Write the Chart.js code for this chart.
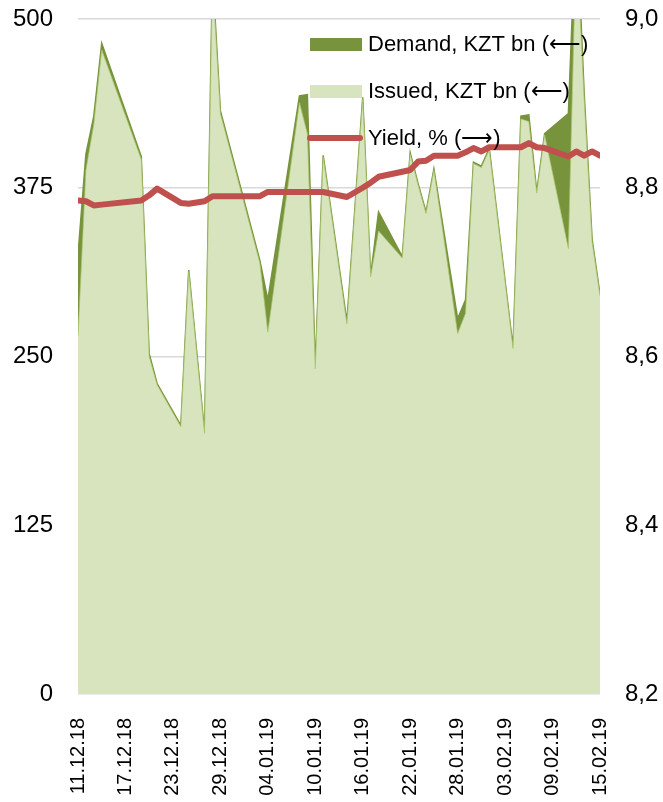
<!DOCTYPE html>
<html>
<head>
    <meta charset="UTF-8">
    <title>Demand, issued and yield</title>
    <script src="https://cdn.jsdelivr.net/npm/chart.js"></script>
    <style>
        html, body { margin: 0; padding: 0; background: #fff; }
        #wrap { width: 663px; height: 802px; position: relative; }
    </style>
</head>
<body>
    <div id="wrap"><canvas id="auctionChart"></canvas></div>

    <script>
        // days since 11.12.18
        const days = [0, 1, 2, 3, 8, 9, 10, 13, 14, 16, 17, 18, 23, 24, 28, 29, 30, 31, 34, 36, 37, 38,
            41, 42, 43, 44, 45, 48, 49, 50, 51, 52, 55, 56, 57, 58, 59, 62, 63, 64, 65, 66];

        const demand = [325, 400, 428, 482, 398, 252, 230, 199, 314, 194, 535, 432, 321, 292, 443, 444, 242, 399, 276, 442, 310, 357,
            324, 401, 378, 357, 389, 278, 292, 394, 391, 404, 257, 428, 429, 372, 415, 430, 580, 445, 337, 296];

        const issued = [265, 388, 422, 477, 396, 250, 229, 198, 313, 193, 530, 430, 319, 268, 438, 415, 241, 398, 274, 441, 309, 343,
            323, 400, 377, 356, 388, 267, 282, 393, 390, 403, 256, 426, 424, 371, 414, 330, 560, 440, 335, 295];

        const yieldPct = [8.785, 8.784, 8.779, 8.780, 8.785, 8.791, 8.799, 8.782, 8.781, 8.784, 8.790, 8.790, 8.790, 8.795, 8.795, 8.795, 8.795, 8.795, 8.789, 8.800, 8.806, 8.813,
            8.819, 8.821, 8.831, 8.832, 8.838, 8.838, 8.842, 8.847, 8.843, 8.848, 8.848, 8.848, 8.853, 8.848, 8.847, 8.837, 8.843, 8.838, 8.843, 8.838];

        // x tick labels, one every 6 days
        const dateLabels = ['11.12.18', '17.12.18', '23.12.18', '29.12.18', '04.01.19', '10.01.19',
            '16.01.19', '22.01.19', '28.01.19', '03.02.19', '09.02.19', '15.02.19'];

        const legendItems = ['Demand, KZT bn (\u27F5)', 'Issued, KZT bn (\u27F5)', 'Yield, % (\u27F6)'];

        const FONT = '"Liberation Sans", Arial, sans-serif';
        const DARK = '#77933C';
        const LIGHT = '#D7E4BD';
        const RED = '#C0504D';

        function pts(values) {
            return days.map((d, i) => ({ x: d, y: values[i] }));
        }

        // legend drawn inside the plot, no background
        const insideLegend = {
            id: 'insideLegend',
            afterDraw(chart) {
                const ctx = chart.ctx;
                ctx.save();
                ctx.fillStyle = DARK;
                ctx.fillRect(310, 38, 52, 13);
                ctx.fillStyle = LIGHT;
                ctx.fillRect(310, 85, 52, 13);
                ctx.strokeStyle = RED;
                ctx.lineWidth = 6;
                ctx.lineCap = 'round';
                ctx.beginPath();
                ctx.moveTo(310, 138);
                ctx.lineTo(360, 138);
                ctx.stroke();

                ctx.fillStyle = '#000';
                ctx.font = '22px ' + FONT;
                ctx.textBaseline = 'middle';
                ctx.textAlign = 'left';
                ctx.fillText(legendItems[0], 368, 45);
                ctx.fillText(legendItems[1], 368, 92);
                ctx.fillText(legendItems[2], 368, 139);
                ctx.restore();
            }
        };

        const ctx = document.getElementById('auctionChart').getContext('2d');
        new Chart(ctx, {
            type: 'line',
            data: {
                datasets: [
                    {
                        label: legendItems[2],
                        data: pts(yieldPct),
                        yAxisID: 'yRight',
                        borderColor: RED,
                        borderWidth: 6,
                        borderJoinStyle: 'round',
                        borderCapStyle: 'round',
                        pointRadius: 0,
                        tension: 0,
                        fill: false,
                        order: 0
                    },
                    {
                        label: legendItems[1],
                        data: pts(issued),
                        yAxisID: 'y',
                        backgroundColor: LIGHT,
                        borderColor: 'rgba(170, 200, 110, 0.7)',
                        borderWidth: 1,
                        pointRadius: 0,
                        tension: 0,
                        fill: 'origin',
                        order: 1
                    },
                    {
                        label: legendItems[0],
                        data: pts(demand),
                        yAxisID: 'y',
                        backgroundColor: DARK,
                        borderColor: DARK,
                        borderWidth: 1.5,
                        pointRadius: 0,
                        tension: 0,
                        fill: 'origin',
                        order: 2
                    }
                ]
            },
            options: {
                responsive: true,
                maintainAspectRatio: false,
                animation: false,
                layout: { padding: { top: 19, left: 0, right: 0, bottom: 0 } },
                plugins: {
                    legend: { display: false },
                    tooltip: { enabled: false },
                    title: { display: false }
                },
                scales: {
                    x: {
                        type: 'linear',
                        position: 'bottom',
                        min: 0,
                        max: 66,
                        grid: { display: false },
                        border: { display: false },
                        afterFit: function(scale) { scale.height = 108; },
                        ticks: {
                            stepSize: 6,
                            autoSkip: false,
                            maxRotation: 90,
                            minRotation: 90,
                            padding: 16,
                            color: '#000',
                            font: { family: FONT, size: 20 },
                            callback: function(value) {
                                return dateLabels[Math.round(value / 6)];
                            }
                        }
                    },
                    y: {
                        position: 'left',
                        min: 0,
                        max: 500,
                        grid: { color: '#D9D9D9', lineWidth: 1.5, drawTicks: true, tickLength: 25, tickColor: 'rgba(0,0,0,0)' },
                        border: { display: false },
                        afterFit: function(scale) { scale.width = 78; },
                        ticks: {
                            stepSize: 125,
                            padding: 0,
                            color: '#000',
                            font: { family: FONT, size: 24 }
                        }
                    },
                    yRight: {
                        position: 'right',
                        min: 8.2,
                        max: 9.0,
                        grid: { display: true, drawOnChartArea: false, color: 'rgba(0,0,0,0)', drawTicks: true, tickLength: 25, tickColor: 'rgba(0,0,0,0)' },
                        border: { display: false },
                        afterFit: function(scale) { scale.width = 63; },
                        ticks: {
                            stepSize: 0.2,
                            padding: 0,
                            color: '#000',
                            font: { family: FONT, size: 24 },
                            callback: function(value) {
                                return value.toFixed(1).replace('.', ',');
                            }
                        }
                    }
                }
            },
            plugins: [insideLegend]
        });
    </script>
</body>
</html>
